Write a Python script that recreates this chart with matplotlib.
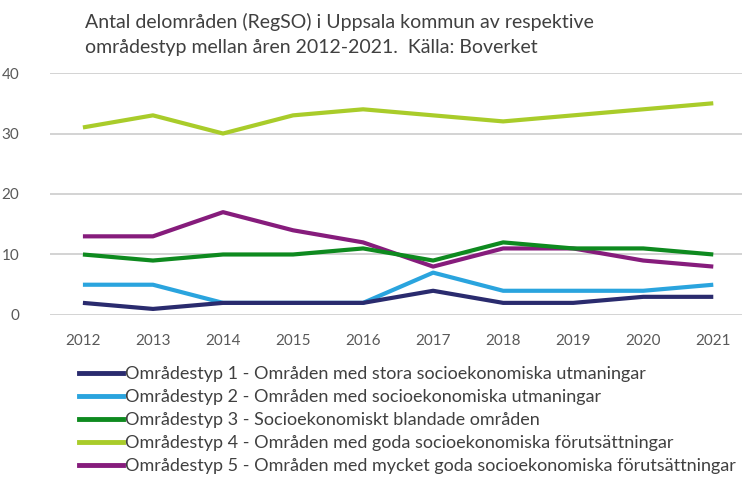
import matplotlib.pyplot as plt
from matplotlib.lines import Line2D

years = [2012, 2013, 2014, 2015, 2016, 2017, 2018, 2019, 2020, 2021]
typ1 = [2, 1, 2, 2, 2, 4, 2, 2, 3, 3]
typ2 = [5, 5, 2, 2, 2, 7, 4, 4, 4, 5]
typ3 = [10, 9, 10, 10, 11, 9, 12, 11, 11, 10]
typ4 = [31, 33, 30, 33, 34, 33, 32, 33, 34, 35]
typ5 = [13, 13, 17, 14, 12, 8, 11, 11, 9, 8]

labels = [
    "Områdestyp 1 - Områden med stora socioekonomiska utmaningar",
    "Områdestyp 2 - Områden med socioekonomiska utmaningar",
    "Områdestyp 3 - Socioekonomiskt blandade områden",
    "Områdestyp 4 - Områden med goda socioekonomiska förutsättningar",
    "Områdestyp 5 - Områden med mycket goda socioekonomiska förutsättningar",
]
colors = ["#2a2b6e", "#2aa4de", "#0e8a1f", "#a9cc2a", "#861c7c"]
series = [typ1, typ2, typ3, typ4, typ5]

plt.rcParams['font.family'] = ['Lato', 'DejaVu Sans']

fig = plt.figure(figsize=(7.42, 4.91), dpi=100)
ax = fig.add_axes([50 / 742, 0.3585, 692 / 742, 0.8513 - 0.3585])

# draw order: background lines first so type 1 sits on top where they meet
for vals, col in zip(series[::-1], colors[::-1]):
    ax.plot(years, vals, color=col, lw=3.0, solid_capstyle='butt', solid_joinstyle='round')

ax.set_xlim(2011.53, 2021.41)
ax.set_ylim(0, 40)
ax.set_yticks([0, 10, 20, 30, 40])
ax.set_xticks(years)
ax.grid(axis='y', color='#d0d0d0', lw=1.3)
ax.set_axisbelow(True)
for s in ax.spines.values():
    s.set_visible(False)
ax.tick_params(length=0, labelsize=11, colors='#595959')
ax.tick_params(axis='y', pad=22)
ax.tick_params(axis='x', pad=14)

fig.text(85 / 742, 1 - 22 / 491, "Antal delområden (RegSO) i Uppsala kommun av respektive",
         fontsize=14, color='#404040', va='center', ha='left')
fig.text(85 / 742, 1 - 48 / 491, "områdestyp mellan åren 2012-2021.  Källa: Boverket",
         fontsize=14, color='#404040', va='center', ha='left')

handles = [Line2D([0], [0], color=c, lw=3.5) for c in colors]
fig.legend(handles, labels, loc='upper left', bbox_to_anchor=(79 / 742, 1 - 366 / 491),
           frameon=False, fontsize=13, handlelength=2.45, handletextpad=0.1,
           labelspacing=0.39, labelcolor='#404040', borderaxespad=0, borderpad=0)

fig.savefig("out.png", dpi=100)
